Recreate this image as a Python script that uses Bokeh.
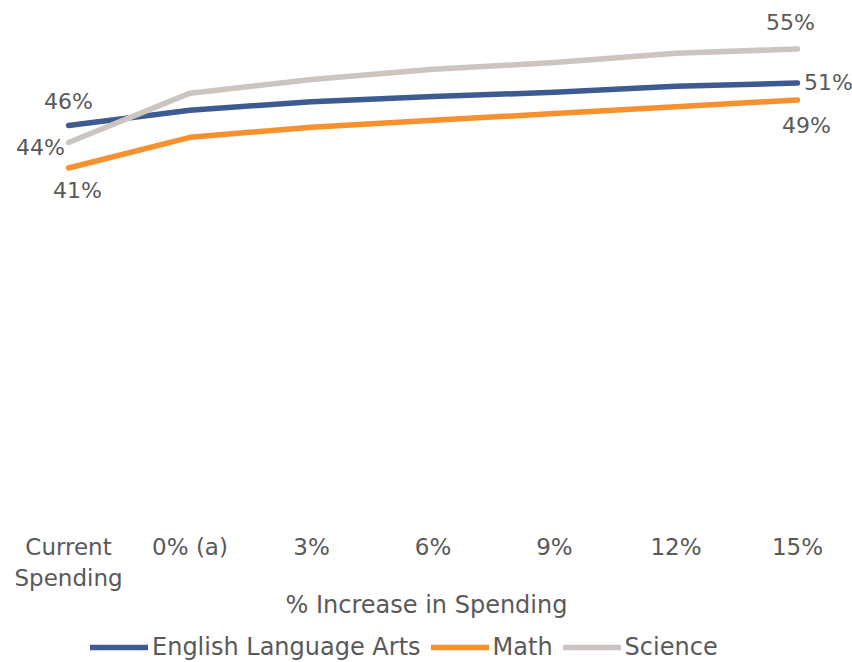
from bokeh.plotting import figure
from bokeh.layouts import column
from bokeh.models import Legend, LegendItem, FixedTicker, Range1d, ColumnDataSource
from bokeh.core.properties import value
from bokeh.embed import file_html
from bokeh.resources import INLINE

categories = ["Current\nSpending", "0% (a)", "3%", "6%", "9%", "12%", "15%"]
ela = [46, 47.8, 48.8, 49.4, 49.9, 50.6, 51]
math_ = [41, 44.6, 45.8, 46.6, 47.4, 48.2, 49]
science = [44, 49.8, 51.4, 52.6, 53.4, 54.5, 55]
series_names = ["English Language Arts", "Math", "Science"]

colors = ["#3D5B91", "#F7902E", "#CBC4C1"]
FONT = "DejaVu Sans"
TEXT_COLOR = "#595959"

xs = list(range(len(categories)))
series = [ela, math_, science]

p = figure(width=852, height=630, output_backend="svg", toolbar_location=None,
           x_range=Range1d(-0.56, 6.453), y_range=Range1d(0, 60.7),
           min_border_left=0, min_border_right=0, min_border_top=0,
           min_border_bottom=114)
p.outline_line_color = None
p.xgrid.visible = False
p.ygrid.visible = False
p.yaxis.visible = False

for vals, c in zip(series, colors):
    p.line(xs, vals, line_color=c, line_width=5.5, line_cap="round", line_join="round")

# end-point labels
label_offsets = {
    0: [(0, -24), (31, 0)],
    1: [(9, 23), (9, 26)],
    2: [(-28, 5), (-7, -26)],
}
for i, vals in enumerate(series):
    idx = [0, len(vals) - 1]
    src = ColumnDataSource(dict(
        x=[xs[j] for j in idx],
        y=[vals[j] for j in idx],
        t=[f"{round(vals[j])}%" for j in idx],
        dx=[o[0] for o in label_offsets[i]],
        dy=[o[1] for o in label_offsets[i]],
    ))
    p.text(x="x", y="y", text="t", x_offset="dx", y_offset="dy", source=src,
           text_font=value(FONT), text_font_size="22px", text_color=TEXT_COLOR,
           text_align="center", text_baseline="middle")

ax = p.xaxis[0]
ax.ticker = FixedTicker(ticks=xs)
ax.major_label_overrides = {i: c for i, c in enumerate(categories)}
ax.axis_line_color = None
ax.major_tick_line_color = None
ax.minor_tick_line_color = None
ax.major_tick_out = 0
ax.major_tick_in = 0
ax.major_label_standoff = 17
ax.major_label_text_font = FONT
ax.major_label_text_font_size = "23px"
ax.major_label_text_color = TEXT_COLOR
ax.axis_label = "% Increase in Spending"
ax.axis_label_text_font = FONT
ax.axis_label_text_font_size = "24px"
ax.axis_label_text_font_style = "normal"
ax.axis_label_text_color = TEXT_COLOR
ax.axis_label_standoff = -3

# legend strip (its own small figure below the chart)
lg = figure(width=852, height=32, output_backend="svg", toolbar_location=None,
            x_range=Range1d(-20, -19), y_range=Range1d(-20, -19),
            min_border_left=0, min_border_right=0, min_border_top=0, min_border_bottom=0)
lg.outline_line_color = None
lg.axis.visible = False
lg.grid.visible = False
lg_renderers = [lg.line(xs, vals, line_color=c, line_width=5.5, line_cap="round")
                for vals, c in zip(series, colors)]
legend = Legend(items=[LegendItem(label=n, renderers=[r]) for n, r in zip(series_names, lg_renderers)],
                orientation="horizontal", location=(90, 1),
                glyph_width=58, glyph_height=20, label_standoff=4, spacing=10,
                padding=0, margin=0, border_line_color=None, background_fill_alpha=0,
                label_text_font=FONT, label_text_font_size="24px",
                label_text_color=TEXT_COLOR)
lg.add_layout(legend, "center")

layout = column(p, lg, spacing=0)
open("out.html", "w").write(file_html(layout, INLINE))
